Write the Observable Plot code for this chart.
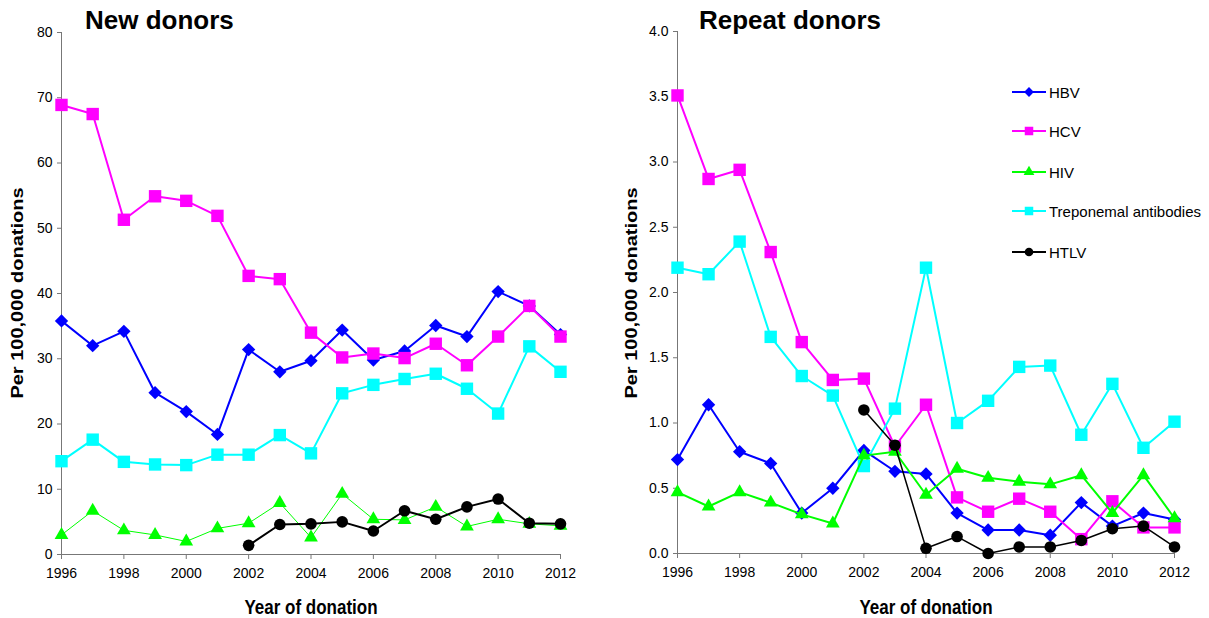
<!DOCTYPE html>
<html>
<head>
<meta charset="utf-8">
<script src="https://cdn.jsdelivr.net/npm/d3@7"></script>
<script src="https://cdn.jsdelivr.net/npm/@observablehq/plot@0.6"></script>
<style>
  html, body { margin: 0; padding: 0; background: #fff; }
  #wrap { position: relative; width: 1209px; height: 618px; overflow: hidden; font-family: "Liberation Sans", Arial, sans-serif; color: #000; }
  .panel { position: absolute; top: 0; }
  .title { position: absolute; font-weight: bold; font-size: 26px; line-height: 1; white-space: nowrap; }
  .xlabel { position: absolute; font-weight: bold; font-size: 17px; line-height: 1; white-space: nowrap; transform: translateX(-50%) scaleY(1.15); }
  .ylabel { position: absolute; font-weight: bold; font-size: 16px; line-height: 1; white-space: nowrap; transform: translate(-50%, -50%) rotate(-90deg) scaleX(1.25); }
  .legend { position: absolute; left: 1010px; top: 0; }
  .legend .item { position: absolute; left: 0; height: 20px; display: flex; align-items: center; white-space: nowrap; font-size: 15px; }
  .legend svg { display: block; margin-right: 3px; }
</style>
</head>
<body>
<div id="wrap"></div>
<script>
// ---- Data ----
const years = [1996, 1997, 1998, 1999, 2000, 2001, 2002, 2003, 2004, 2005, 2006, 2007, 2008, 2009, 2010, 2011, 2012];
const seriesNames = ["HBV", "HCV", "HIV", "Treponemal antibodies", "HTLV"];
const seriesColors = ["#0000ff", "#ff00ff", "#00ff00", "#00ffff", "#000000"];
const xTicks = [1996, 1998, 2000, 2002, 2004, 2006, 2008, 2010, 2012];

// New donors (per 100,000 donations)
const newHBV  = [35.8, 32.0, 34.2, 24.8, 21.9, 18.4, 31.4, 28.0, 29.7, 34.4, 29.8, 31.2, 35.1, 33.4, 40.3, 38.1, 33.7];
const newHCV  = [68.9, 67.5, 51.3, 54.9, 54.2, 51.9, 42.7, 42.2, 34.0, 30.2, 30.8, 30.1, 32.3, 29.0, 33.4, 38.1, 33.4];
const newHIV  = [3.0, 6.7, 3.7, 3.0, 2.0, 4.0, 4.8, 7.9, 2.6, 9.3, 5.4, 5.3, 7.3, 4.3, 5.4, 4.7, 4.4];
const newTrep = [14.3, 17.6, 14.2, 13.8, 13.7, 15.3, 15.3, 18.3, 15.5, 24.7, 26.0, 26.9, 27.7, 25.4, 21.6, 31.9, 28.0];
const newHTLV = [null, null, null, null, null, null, 1.4, 4.6, 4.7, 5.0, 3.6, 6.7, 5.4, 7.3, 8.5, 4.8, 4.7];
const newYTicks = [0, 10, 20, 30, 40, 50, 60, 70, 80];

// Repeat donors (per 100,000 donations)
const repHBV  = [0.72, 1.14, 0.78, 0.69, 0.31, 0.50, 0.79, 0.63, 0.61, 0.31, 0.18, 0.18, 0.14, 0.39, 0.21, 0.31, 0.26];
const repHCV  = [3.51, 2.87, 2.94, 2.31, 1.62, 1.33, 1.34, 0.82, 1.14, 0.43, 0.32, 0.42, 0.32, 0.11, 0.40, 0.20, 0.20];
const repHIV  = [0.47, 0.36, 0.47, 0.39, 0.30, 0.23, 0.75, 0.78, 0.45, 0.65, 0.58, 0.55, 0.53, 0.60, 0.31, 0.60, 0.27];
const repTrep = [2.19, 2.14, 2.39, 1.66, 1.36, 1.21, 0.67, 1.11, 2.19, 1.00, 1.17, 1.43, 1.44, 0.91, 1.30, 0.81, 1.01];
const repHTLV = [null, null, null, null, null, null, 1.10, 0.83, 0.04, 0.13, 0.00, 0.05, 0.05, 0.10, 0.19, 0.21, 0.05];
const repYTicks = [0, 0.5, 1.0, 1.5, 2.0, 2.5, 3.0, 3.5, 4.0];

// ---- Styling per series ----
const symbols = ["diamond2", "square", "triangle", "square", "circle"];
const radii   = [6.0, 7.0, 5.1, 7.0, 5.8];
// drawing order: HBV, HCV, Treponemal, HIV, HTLV
const drawOrder = [0, 1, 3, 2, 4];

function rows(values) {
  return years.map((year, i) => ({year, value: values[i]})).filter(d => d.value != null);
}

function chart({series, yTicks, yFormat, width, marginLeft, marginRight, marginTop, marginBottom, widths}) {
  const marks = [];
  marks.push(Plot.ruleY([yTicks[0]], {stroke: "#777", strokeWidth: 1}));
  marks.push(Plot.ruleX([years[0]], {stroke: "#777", strokeWidth: 1}));
  marks.push(Plot.axisX({ticks: xTicks, tickFormat: d => String(d), tickSize: 5, tickPadding: 9, stroke: "#777", fill: "#000", fontSize: 14, label: null}));
  marks.push(Plot.axisY({ticks: yTicks, tickFormat: yFormat, tickSize: 4, tickPadding: 5, stroke: "#777", fill: "#000", fontSize: 14, label: null}));
  for (const k of drawOrder) {
    const data = rows(series[k]);
    marks.push(Plot.line(data, {x: "year", y: "value", stroke: seriesColors[k], strokeWidth: widths[k], curve: "linear"}));
    marks.push(Plot.dot(data, {x: "year", y: "value", symbol: symbols[k], r: radii[k], fill: seriesColors[k], stroke: "none"}));
  }
  return Plot.plot({
    width, height: 618, marginLeft, marginRight, marginTop, marginBottom,
    style: {fontFamily: "'Liberation Sans', Arial, sans-serif", fontSize: "14px", color: "#000", background: "transparent"},
    x: {domain: [years[0], years[years.length - 1]]},
    y: {domain: [yTicks[0], yTicks[yTicks.length - 1]]},
    marks
  });
}

const wrap = document.getElementById("wrap");

const left = chart({
  series: [newHBV, newHCV, newHIV, newTrep, newHTLV],
  yTicks: newYTicks, yFormat: d => String(d),
  width: 605, marginLeft: 61, marginRight: 45, marginTop: 32, marginBottom: 64,
  widths: [2, 2, 1, 2, 2]
});
left.classList.add("panel");
left.style.left = "0px";
wrap.appendChild(left);

const right = chart({
  series: [repHBV, repHCV, repHIV, repTrep, repHTLV],
  yTicks: repYTicks, yFormat: d3.format(".1f"),
  width: 604, marginLeft: 72, marginRight: 35, marginTop: 31, marginBottom: 65,
  widths: [2, 2, 2, 2, 1.5]
});
right.classList.add("panel");
right.style.left = "605px";
wrap.appendChild(right);

// ---- Text ----
function addDiv(cls, text, styles) {
  const d = document.createElement("div");
  d.className = cls;
  d.textContent = text;
  Object.assign(d.style, styles);
  wrap.appendChild(d);
  return d;
}
addDiv("title", "New donors", {left: "85px", top: "7px"});
addDiv("title", "Repeat donors", {left: "699px", top: "7px"});
addDiv("xlabel", "Year of donation", {left: "311px", top: "599px"});
addDiv("xlabel", "Year of donation", {left: "926px", top: "599px"});
addDiv("ylabel", "Per 100,000 donations", {left: "18px", top: "293px"});
addDiv("ylabel", "Per 100,000 donations", {left: "632px", top: "293px"});

// ---- Legend ----
const legend = document.createElement("div");
legend.className = "legend";
wrap.appendChild(legend);
const legendY = [92, 131, 172, 211, 252];
const legendR = [4.4, 4.8, 4.0, 4.8, 4.3];
const symMap = {diamond2: d3.symbolDiamond2, square: d3.symbolSquare, triangle: d3.symbolTriangle, circle: d3.symbolCircle};
seriesNames.forEach((name, k) => {
  const item = document.createElement("div");
  item.className = "item";
  item.style.top = (legendY[k] - 10) + "px";
  const svg = d3.create("svg").attr("width", 36).attr("height", 20);
  svg.append("line").attr("x1", 2).attr("x2", 36).attr("y1", 10).attr("y2", 10)
    .attr("stroke", seriesColors[k]).attr("stroke-width", 2);
  svg.append("path").attr("transform", "translate(19,10)")
    .attr("d", d3.symbol(symMap[symbols[k]], Math.PI * legendR[k] * legendR[k])())
    .attr("fill", seriesColors[k]);
  item.appendChild(svg.node());
  const span = document.createElement("span");
  span.textContent = name;
  item.appendChild(span);
  legend.appendChild(item);
});
</script>
</body>
</html>
